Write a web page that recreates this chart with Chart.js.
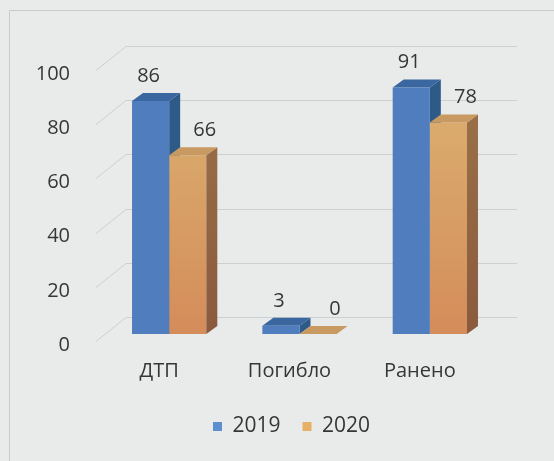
<!DOCTYPE html>
<html>
<head>
<meta charset="utf-8">
<script src="https://cdn.jsdelivr.net/npm/chart.js@4/dist/chart.umd.min.js"></script>
<style>
  html, body { margin: 0; padding: 0; background: #e9ebeb; }
  #c { display: block; }
</style>
</head>
<body>
<canvas id="c" width="554" height="461"></canvas>
<script>
const categories = ['ДТП', 'Погибло', 'Ранено'];
const seriesNames = ['2019', '2020'];
const values2019 = [86, 3, 91];
const values2020 = [66, 0, 78];
const yTicks = [0, 20, 40, 60, 80, 100];

const FONT = '"Open Sans", "Liberation Sans", sans-serif';
const TEXT = '#363636';
const DX = 11, DY = 8;          // bar depth
const WX = 30, WY = 17;         // wall depth

const blue = { front: '#4f7dbe', side: '#2e5a88', top: '#3a679f', legend: '#5b8fd0' };
const orange = { frontTop: '#dcb472', frontBot: '#d48c5a', sideTop: '#9c7449', sideBot: '#8a5a3e', top: '#c89a62', legend: '#e6b066' };

function orangeFill(ctx) {
  const chart = ctx.chart;
  const area = chart.chartArea;
  if (!area) return orange.frontTop;
  const g = chart.ctx.createLinearGradient(0, area.top, 0, area.bottom);
  g.addColorStop(0, orange.frontTop);
  g.addColorStop(1, orange.frontBot);
  return g;
}

function drawFaces(chart, index) {
  const c = chart.ctx;
  const meta = chart.getDatasetMeta(index);
  const isBlue = index === 0;
  const area = chart.chartArea;
  c.save();
  meta.data.forEach(el => {
    const p = el.getProps(['x', 'y', 'base', 'width'], true);
    const l = p.x - p.width / 2, r = p.x + p.width / 2;
    if (isBlue) {
      c.fillStyle = blue.side;
    } else {
      const g = c.createLinearGradient(0, area.top, 0, area.bottom);
      g.addColorStop(0, orange.sideTop);
      g.addColorStop(1, orange.sideBot);
      c.fillStyle = g;
    }
    c.beginPath();
    c.moveTo(r, p.y);
    c.lineTo(r + DX, p.y - DY);
    c.lineTo(r + DX, p.base - DY);
    c.lineTo(r, p.base);
    c.closePath();
    c.fill();
    c.fillStyle = isBlue ? blue.top : orange.top;
    c.beginPath();
    c.moveTo(l, p.y);
    c.lineTo(l + DX, p.y - DY);
    c.lineTo(r + DX, p.y - DY);
    c.lineTo(r, p.y);
    c.closePath();
    c.fill();
  });
  c.restore();
}

const threeD = {
  id: 'threeD',
  afterLayout(chart) {
    // legend in the original sits to the right of the plot centre
    if (chart.legend) {
      chart.legend.left += 44;
      chart.legend.right += 44;
    }
  },
  beforeDraw(chart) {
    const c = chart.ctx;
    c.save();
    c.fillStyle = '#e9ebeb';
    c.fillRect(0, 0, chart.width, chart.height);
    c.strokeStyle = '#c8cbcb';
    c.lineWidth = 1;
    c.beginPath();
    c.moveTo(9.5, chart.height);
    c.lineTo(9.5, 10.5);
    c.lineTo(chart.width, 10.5);
    c.stroke();
    c.restore();
  },
  beforeDatasetsDraw(chart) {
    const c = chart.ctx;
    const y = chart.scales.y;
    const L = chart.chartArea.left;
    c.save();
    c.strokeStyle = '#cdd0d0';
    c.lineWidth = 1;
    yTicks.forEach(v => {
      const py = Math.round(y.getPixelForValue(v)) + 0.5;
      c.beginPath();
      c.moveTo(L - 8, py + 7);
      c.lineTo(L + WX - 8, py - WY);
      c.lineTo(chart.chartArea.right + 22, py - WY);
      c.stroke();
    });
    c.restore();
    drawFaces(chart, 0);
  },
  afterDatasetDraw(chart, args) {
    if (args.index === 1) drawFaces(chart, 1);
  },
  afterDatasetsDraw(chart) {
    const c = chart.ctx;
    c.save();
    c.font = '20px ' + FONT;
    c.fillStyle = TEXT;
    c.textAlign = 'center';
    c.textBaseline = 'middle';
    chart.data.datasets.forEach((ds, di) => {
      const meta = chart.getDatasetMeta(di);
      meta.data.forEach((el, i) => {
        const p = el.getProps(['x', 'y'], true);
        const ox = di === 0 ? -2 : 17;
        c.fillText(String(ds.data[i]), p.x + ox, p.y - 25);
      });
    });
    c.restore();
  }
};

new Chart(document.getElementById('c'), {
  type: 'bar',
  data: {
    labels: categories,
    datasets: [
      { label: seriesNames[0], data: values2019, backgroundColor: blue.front,
        barPercentage: 1.0, categoryPercentage: 0.57 },
      { label: seriesNames[1], data: values2020, backgroundColor: orangeFill,
        barPercentage: 1.0, categoryPercentage: 0.57 }
    ]
  },
  options: {
    responsive: false,
    animation: false,
    devicePixelRatio: 1,
    layout: { padding: { left: 0, right: 59, top: 63, bottom: 14 } },
    scales: {
      x: {
        grid: { display: false, drawTicks: false },
        border: { display: false },
        ticks: { font: { family: FONT, size: 20 }, color: TEXT, padding: 25, labelOffset: -10 },
        afterFit(s) { s.height = 60; }
      },
      y: {
        min: 0, max: 100,
        afterBuildTicks(s) { s.ticks = yTicks.map(v => ({ value: v })); },
        grid: { display: false, drawTicks: false },
        border: { display: false },
        ticks: { font: { family: FONT, size: 20 }, color: TEXT, padding: 34, labelOffset: 11 },
        afterFit(s) { s.width = 104; }
      }
    },
    plugins: {
      legend: {
        position: 'bottom',
        labels: {
          font: { family: FONT, size: 21 }, color: TEXT,
          boxWidth: 9, boxHeight: 9, padding: 22,
          generateLabels(chart) {
            return chart.data.datasets.map((ds, i) => ({
              text: ds.label,
              fillStyle: i === 0 ? blue.legend : orange.legend,
              strokeStyle: 'rgba(0,0,0,0)',
              lineWidth: 0,
              datasetIndex: i,
              hidden: false,
              fontColor: TEXT
            }));
          }
        }
      },
      tooltip: { enabled: false }
    }
  },
  plugins: [threeD]
});
</script>
</body>
</html>
